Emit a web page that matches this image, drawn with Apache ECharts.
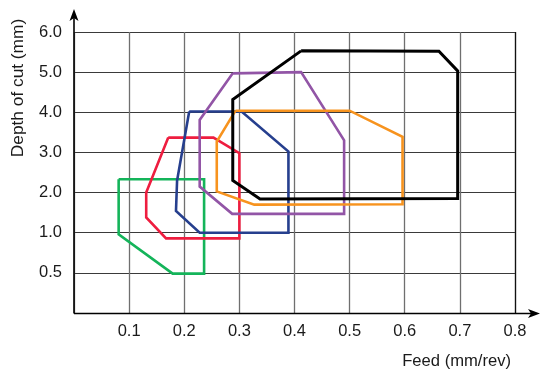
<!DOCTYPE html>
<html>
<head>
<meta charset="utf-8">
<style>html,body{margin:0;padding:0;background:#fff;}#c{width:540px;height:369px;}</style>
<script src="https://cdn.jsdelivr.net/npm/echarts@6/dist/echarts.min.js"></script>
</head>
<body>
<div id="c"></div>
<script>
// Tick labels
const xTickLabels = ['', '0.1', '0.2', '0.3', '0.4', '0.5', '0.6', '0.7', '0.8'];
const yTickValues = [0, 0.5, 1.0, 2.0, 3.0, 4.0, 5.0, 6.0];
const yTickLabels = ['', '0.5', '1.0', '2.0', '3.0', '4.0', '5.0', '6.0'];

// Polygon vertices: [feed (mm/rev), depth of cut (mm)]
const greenRegion  = [[0.081,2.33],[0.236,2.33],[0.236,0.49],[0.179,0.49],[0.081,0.98]];
const redRegion    = [[0.171,3.37],[0.253,3.37],[0.300,2.98],[0.300,0.93],[0.167,0.93],[0.131,1.38],[0.131,2.00]];
const blueRegion   = [[0.209,4.02],[0.304,4.02],[0.389,3.02],[0.389,1.00],[0.228,1.00],[0.185,1.54],[0.187,2.30]];
const purpleRegion = [[0.288,4.97],[0.412,5.00],[0.490,3.30],[0.490,1.47],[0.287,1.47],[0.228,2.15],[0.228,3.81]];
const orangeRegion = [[0.293,4.04],[0.500,4.04],[0.596,3.39],[0.596,1.71],[0.327,1.70],[0.259,2.03],[0.259,3.27]];
const blackRegion  = [[0.412,5.53],[0.662,5.52],[0.696,5.03],[0.696,1.85],[0.3375,1.84],[0.288,2.30],[0.288,4.32]];

// Map a depth to the evenly spaced tick index scale used by the axis
function depthToAxis(d) {
  for (let i = 0; i < yTickValues.length - 1; i++) {
    const a = yTickValues[i], b = yTickValues[i + 1];
    if (d <= b || i === yTickValues.length - 2) return i + (d - a) / (b - a);
  }
}
function closed(pts) {
  const out = pts.map(p => [p[0], depthToAxis(p[1])]);
  out.push(out[0].slice());
  return out;
}

const regions = [
  {data: greenRegion,  color: '#14b45a', w: 2.6},
  {data: redRegion,    color: '#ee1d3f', w: 2.6},
  {data: blueRegion,   color: '#263f8e', w: 2.6},
  {data: purpleRegion, color: '#9255a6', w: 2.6},
  {data: orangeRegion, color: '#f7931e', w: 2.6},
  {data: blackRegion,  color: '#000000', w: 3.0}
];

const chart = echarts.init(document.getElementById('c'), null, {renderer: 'canvas'});
const font = "'Liberation Sans', Arial, sans-serif";
chart.setOption({
  animation: false,
  grid: {left: 74, right: 25, top: 32, bottom: 56, containLabel: false},
  xAxis: {
    type: 'value', min: 0, max: 0.8, interval: 0.1,
    axisLine: {show: false},
    axisTick: {show: false},
    axisLabel: {
      margin: 10, color: '#1a1a1a', fontSize: 16.5, fontFamily: font,
      formatter: v => xTickLabels[Math.round(v * 10)]
    },
    splitLine: {show: true, lineStyle: {color: '#6f6f6f', width: 1.3}}
  },
  yAxis: {
    type: 'value', min: 0, max: 7, interval: 1,
    axisLine: {show: false},
    axisTick: {show: false},
    axisLabel: {
      margin: 12, color: '#1a1a1a', fontSize: 16.5, fontFamily: font,
      formatter: v => yTickLabels[Math.round(v)]
    },
    splitLine: {show: true, lineStyle: {color: '#3a3a3a', width: 1}}
  },
  graphic: [
    {type: 'line', shape: {x1: 74, y1: 313.5, x2: 74, y2: 16}, style: {stroke: '#000', lineWidth: 1.6}, z: 10},
    {type: 'polygon', shape: {points: [[74, 9], [69.5, 21], [74, 18], [78.5, 21]]}, style: {fill: '#000'}, z: 10},
    {type: 'line', shape: {x1: 74, y1: 313.5, x2: 533, y2: 313.5}, style: {stroke: '#000', lineWidth: 1.6}, z: 10},
    {type: 'line', shape: {x1: 515.5, y1: 32, x2: 515.5, y2: 313.5}, style: {stroke: '#111', lineWidth: 1.2}, z: 9},
    {type: 'polygon', shape: {points: [[540, 313.5], [528, 309], [531, 313.5], [528, 318]]}, style: {fill: '#000'}, z: 10},
    {type: 'text', x: 511, y: 361, style: {text: 'Feed (mm/rev)', fill: '#1a1a1a', font: '16.6px ' + font, textAlign: 'right', textVerticalAlign: 'middle'}},
    {type: 'text', x: 18, y: 88, rotation: Math.PI / 2, style: {text: 'Depth of cut (mm)', fill: '#1a1a1a', font: '17.3px ' + font, textAlign: 'center', textVerticalAlign: 'middle'}}
  ],
  series: regions.map(r => ({
    type: 'line',
    data: closed(r.data),
    showSymbol: false,
    symbol: 'none',
    lineStyle: {color: r.color, width: r.w, join: 'miter'},
    itemStyle: {color: r.color},
    silent: true,
    z: 5
  }))
});
</script>
</body>
</html>
